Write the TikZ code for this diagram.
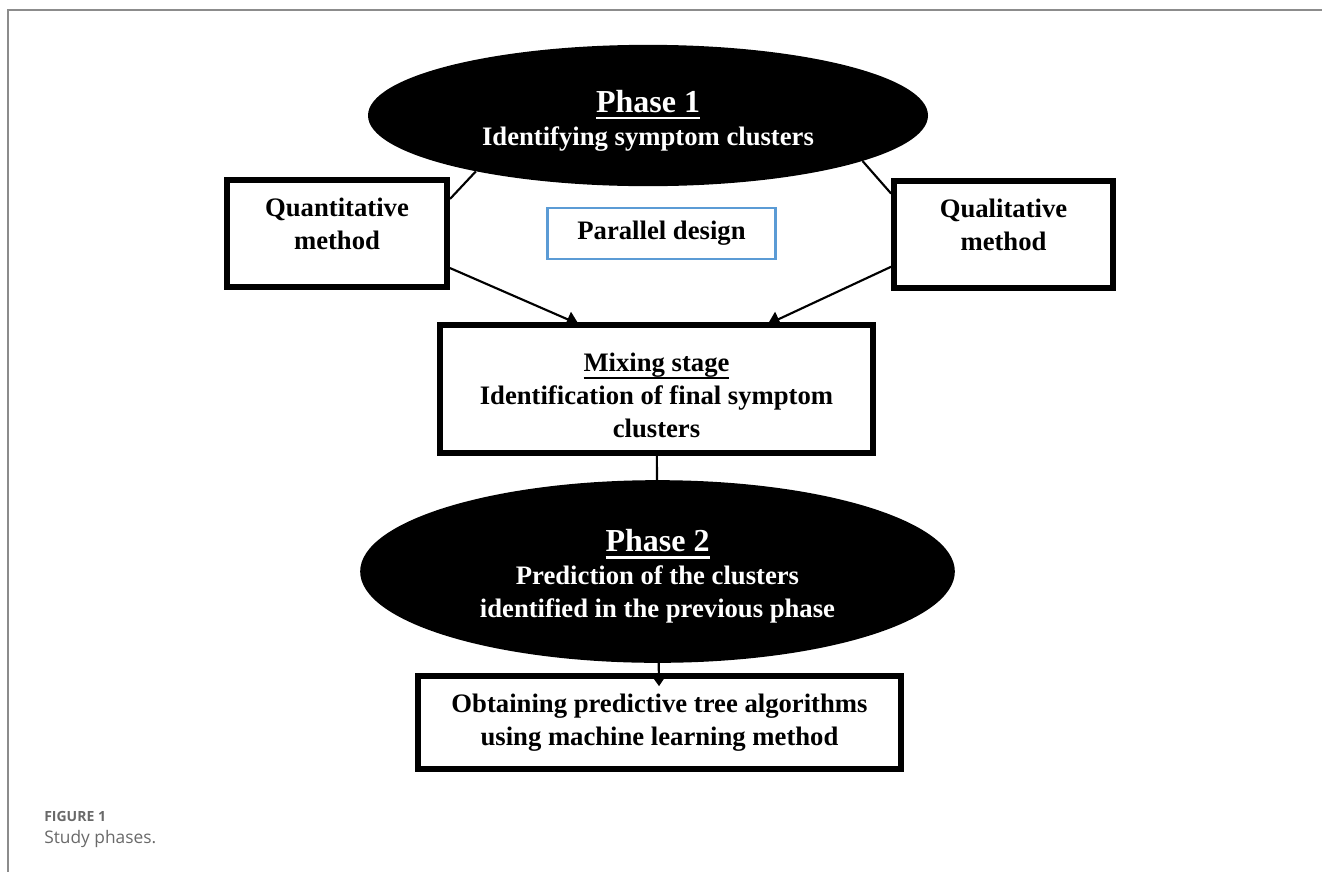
\documentclass[tikz,border=0pt]{standalone}
\usepackage{fontspec}
\setmainfont{Liberation Serif}
\newfontfamily\figfont{Open Sans}
\usepackage{xcolor}
\usepackage{tikz}
\usetikzlibrary{arrows.meta,shapes.geometric}

\definecolor{designblue}{RGB}{91,155,213}
\definecolor{captiongray}{RGB}{105,105,105}
\definecolor{framegray}{RGB}{140,140,140}

% underlined heading with a heavier rule
\newcommand{\ulhead}[1]{\setbox0\hbox{#1}\rlap{\rule[-5.5pt]{\wd0}{2pt}}\rule{0pt}{24pt}\box0}

\begin{document}
\begin{tikzpicture}[x=0.75pt,y=-0.75pt,
    phase/.style={ellipse,fill=black,text=white,inner sep=0pt,align=center,
        font=\bfseries\fontsize{20}{24.75}\selectfont},
    method/.style={draw,line width=4.5pt,align=center,
        font=\bfseries\fontsize{20}{24.75}\selectfont},
    link/.style={line width=1.6pt,>={Triangle[length=9pt,width=12pt]}}]
    \useasboundingbox (0,0) rectangle (1322,872);

    % Frame
    \draw[framegray,line width=1.1pt] (1322,10) -- (8,10) -- (8,872);

    % Phase 1
    \node[phase,minimum width=420pt,minimum height=106pt] (p1) at (648,115.5)
        {{\fontsize{24}{24.75}\selectfont\ulhead{Phase 1}}\\Identifying symptom clusters};
    \node[method,minimum width=165pt,minimum height=80pt,text depth=14pt] (quant) at (337,233.5) {Quantitative\\method};
    \node[method,minimum width=164pt,minimum height=80pt,text depth=14pt] (qual) at (1003.5,234.5) {Qualitative\\method};
    \node[draw=designblue,line width=1.8pt,minimum width=171pt,minimum height=38pt,
        font=\bfseries\fontsize{20}{24.75}\selectfont] (design) at (661.5,233.5) {Parallel design};

    % Mixing stage
    \node[method,minimum width=325pt,minimum height=96pt] (mix) at (656.5,389)
        {\ulhead{Mixing stage}\\Identification of final symptom\\clusters};

    % Phase 2
    \node[phase,minimum width=446pt,minimum height=137pt] (p2) at (657.5,571.5)
        {{\fontsize{24}{24.75}\selectfont\ulhead{Phase 2}}\\Prediction of the clusters\\identified in the previous phase};
    \node[method,minimum width=362pt,minimum height=70pt] (algo) at (659.5,722.5)
        {Obtaining predictive tree algorithms\\using machine learning method};

    % Connectors
    \draw[link] (p1.198) -- (quant.17);
    \draw[link] (p1.348) -- (qual.160);
    \draw[link,->,shorten >=-4pt] (quant.-17) -- (mix.141);
    \draw[link,->,shorten >=-4pt] (qual.196) -- (mix.30);
    \draw[link] (mix) -- (p2);
    \draw[link,->,shorten >=-10pt] (p2) -- (algo);

    % Caption
    \node[anchor=base west,inner sep=0pt,text=captiongray,
        font=\figfont\bfseries\fontsize{10.5}{12}\selectfont] (fignum) at (44,821) {FIGURE 1};
    \node[anchor=base west,inner sep=0pt,text=captiongray,
        font=\figfont\fontsize{13}{15}\selectfont] (figcap) at (44,843) {Study phases.};
\end{tikzpicture}
\end{document}
